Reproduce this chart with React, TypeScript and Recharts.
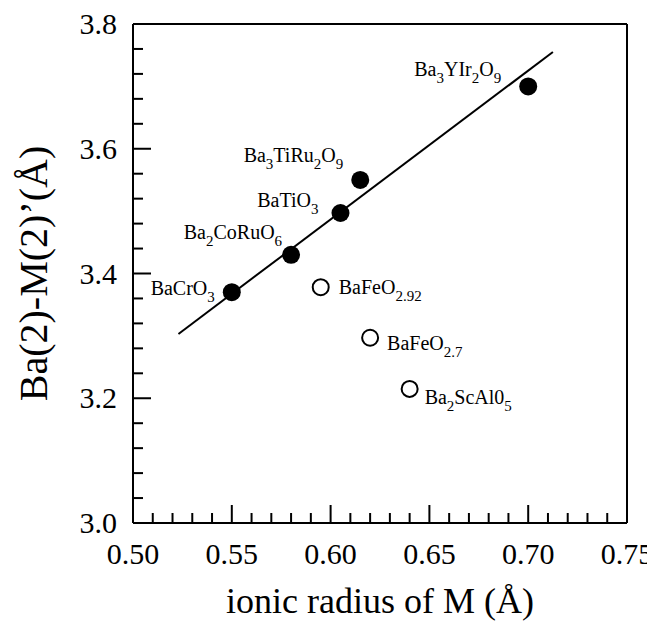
import React from 'react';
import { ScatterChart, Scatter, XAxis, YAxis, ReferenceLine } from 'recharts';

// compounds, ionic radius of M (Å) and Ba(2)-M(2)' distance (Å)
const filledNames = ['BaCrO_{3}', 'Ba_{2}CoRuO_{6}', 'BaTiO_{3}', 'Ba_{3}TiRu_{2}O_{9}', 'Ba_{3}YIr_{2}O_{9}'];
const filledRadius = [0.55, 0.58, 0.605, 0.615, 0.7];
const filledDistance = [3.37, 3.43, 3.497, 3.55, 3.7];

const openNames = ['BaFeO_{2.92}', 'BaFeO_{2.7}', 'Ba_{2}ScAl0_{5}'];
const openRadius = [0.595, 0.62, 0.64];
const openDistance = [3.378, 3.297, 3.215];

const fitRadius = [0.523, 0.7125];
const fitDistance = [3.303, 3.755];

const xTicks = [
  0.5, 0.51, 0.52, 0.53, 0.54, 0.55, 0.56, 0.57, 0.58, 0.59, 0.6, 0.61, 0.62,
  0.63, 0.64, 0.65, 0.66, 0.67, 0.68, 0.69, 0.7, 0.71, 0.72, 0.73, 0.74, 0.75,
];
const xLabels = [0.5, 0.55, 0.6, 0.65, 0.7, 0.75];
const yTicks = [
  3.0, 3.04, 3.08, 3.12, 3.16, 3.2, 3.24, 3.28, 3.32, 3.36, 3.4, 3.44, 3.48,
  3.52, 3.56, 3.6, 3.64, 3.68, 3.72, 3.76, 3.8,
];
const yLabels = [3.0, 3.2, 3.4, 3.6, 3.8];

// where each compound label sits relative to its marker
const labelPlacement: Record<string, { anchor: string; dx: number; dy: number }> = {
  'BaCrO_{3}': { anchor: 'end', dx: -17, dy: 3 },
  'Ba_{2}CoRuO_{6}': { anchor: 'end', dx: -9, dy: -16 },
  'BaTiO_{3}': { anchor: 'end', dx: -22, dy: -6 },
  'Ba_{3}TiRu_{2}O_{9}': { anchor: 'end', dx: -17, dy: -18 },
  'Ba_{3}YIr_{2}O_{9}': { anchor: 'end', dx: -27, dy: -10 },
  'BaFeO_{2.92}': { anchor: 'start', dx: 18, dy: 7 },
  'BaFeO_{2.7}': { anchor: 'start', dx: 17, dy: 12 },
  'Ba_{2}ScAl0_{5}': { anchor: 'start', dx: 15, dy: 15 },
};

const FONT = '"Liberation Serif", "Times New Roman", serif';

const filledData = filledNames.map((name, i) => ({ name, x: filledRadius[i], y: filledDistance[i] }));
const openData = openNames.map((name, i) => ({ name, x: openRadius[i], y: openDistance[i] }));
const fitData = fitRadius.map((x, i) => ({ x, y: fitDistance[i] }));

const isIn = (v: number, list: number[]) => list.some(l => Math.abs(l - v) < 1e-6);

const Formula = ({ text, x, y, anchor }: { text: string; x: number; y: number; anchor: string }) => {
  const parts = text.split(/(_\{[^}]*\})/).filter(p => p.length > 0);
  let shifted = false;
  return (
    <text x={x} y={y} textAnchor={anchor as any} fontFamily={FONT} fontSize={20} fill="#000">
      {parts.map((p, i) => {
        if (p.startsWith('_{')) {
          shifted = true;
          return (
            <tspan key={i} dy={7} fontSize={15}>
              {p.slice(2, -1)}
            </tspan>
          );
        }
        const dy = shifted ? -7 : 0;
        shifted = false;
        return (
          <tspan key={i} dy={dy}>
            {p}
          </tspan>
        );
      })}
    </text>
  );
};

const makeMarker = (open: boolean) => (props: any) => {
  const { cx, cy, payload } = props;
  const place = labelPlacement[payload.name];
  return (
    <g>
      {open ? (
        <circle cx={cx} cy={cy} r={8} fill="#fff" stroke="#000" strokeWidth={2} />
      ) : (
        <circle cx={cx} cy={cy} r={9} fill="#000" />
      )}
      <Formula text={payload.name} x={cx + place.dx} y={cy + place.dy} anchor={place.anchor} />
    </g>
  );
};

const XTick = (props: any) => {
  const { x, y, payload } = props;
  const major = isIn(payload.value, xLabels);
  return (
    <g>
      <line x1={x} x2={x} y1={y} y2={y - (major ? 18 : 10)} stroke="#000" strokeWidth={2} />
      {major && (
        <text x={x} y={y + 41} textAnchor="middle" fontFamily={FONT} fontSize={30} fill="#000">
          {payload.value.toFixed(2)}
        </text>
      )}
    </g>
  );
};

const YTickLeft = (props: any) => {
  const { x, y, payload } = props;
  const major = isIn(payload.value, yLabels);
  return (
    <g>
      <line x1={x} x2={x + (major ? 18 : 10)} y1={y} y2={y} stroke="#000" strokeWidth={2} />
      {major && (
        <text x={x - 16} y={y + 10} textAnchor="end" fontFamily={FONT} fontSize={30} fill="#000">
          {payload.value.toFixed(1)}
        </text>
      )}
    </g>
  );
};

const YTickRight = (props: any) => {
  const { x, y, payload } = props;
  const major = isIn(payload.value, yLabels);
  return <line x1={x} x2={x - (major ? 18 : 10)} y1={y} y2={y} stroke="#000" strokeWidth={2} />;
};

export default function App() {
  return (
    <div style={{ width: 647, height: 614, background: '#fff' }}>
      <ScatterChart width={647} height={614} margin={{ top: 16, right: 0, bottom: 0, left: 0 }}>
        <XAxis
          type="number"
          dataKey="x"
          domain={[0.5, 0.75]}
          ticks={xTicks}
          interval={0}
          height={99}
          tickSize={0}
          tickMargin={0}
          tickLine={false}
          tick={<XTick />}
          axisLine={{ stroke: '#000', strokeWidth: 2 }}
          label={(p: any) => {
            const vb = p.viewBox;
            return (
              <text x={vb.x + vb.width / 2} y={vb.y + 90} textAnchor="middle" fontFamily={FONT} fontSize={36} fill="#000">
                ionic radius of M (Å)
              </text>
            );
          }}
        />
        <YAxis
          type="number"
          dataKey="y"
          domain={[3.0, 3.8]}
          ticks={yTicks}
          interval={0}
          width={125}
          tickSize={0}
          tickMargin={0}
          tickLine={false}
          tick={<YTickLeft />}
          axisLine={{ stroke: '#000', strokeWidth: 2 }}
          label={(p: any) => {
            const vb = p.viewBox;
            const cx = vb.x + 39;
            const cy = vb.y + vb.height / 2;
            return (
              <text x={cx} y={cy} transform={`rotate(-90, ${cx}, ${cy})`} textAnchor="middle" fontFamily={FONT} fontSize={40} fill="#000">
                Ba(2)-M(2)’(Å)
              </text>
            );
          }}
        />
        <YAxis
          yAxisId="r"
          orientation="right"
          type="number"
          domain={[3.0, 3.8]}
          ticks={yTicks}
          interval={0}
          width={28}
          tickSize={0}
          tickMargin={0}
          tickLine={false}
          tick={<YTickRight />}
          axisLine={{ stroke: '#000', strokeWidth: 2 }}
        />
        <ReferenceLine y={3.8} stroke="#000" strokeWidth={2} />
        <Scatter
          data={fitData}
          line={{ stroke: '#000', strokeWidth: 2 }}
          shape={() => <g />}
          isAnimationActive={false}
        />
        <Scatter data={filledData} shape={makeMarker(false)} isAnimationActive={false} />
        <Scatter data={openData} shape={makeMarker(true)} isAnimationActive={false} />
      </ScatterChart>
    </div>
  );
}
